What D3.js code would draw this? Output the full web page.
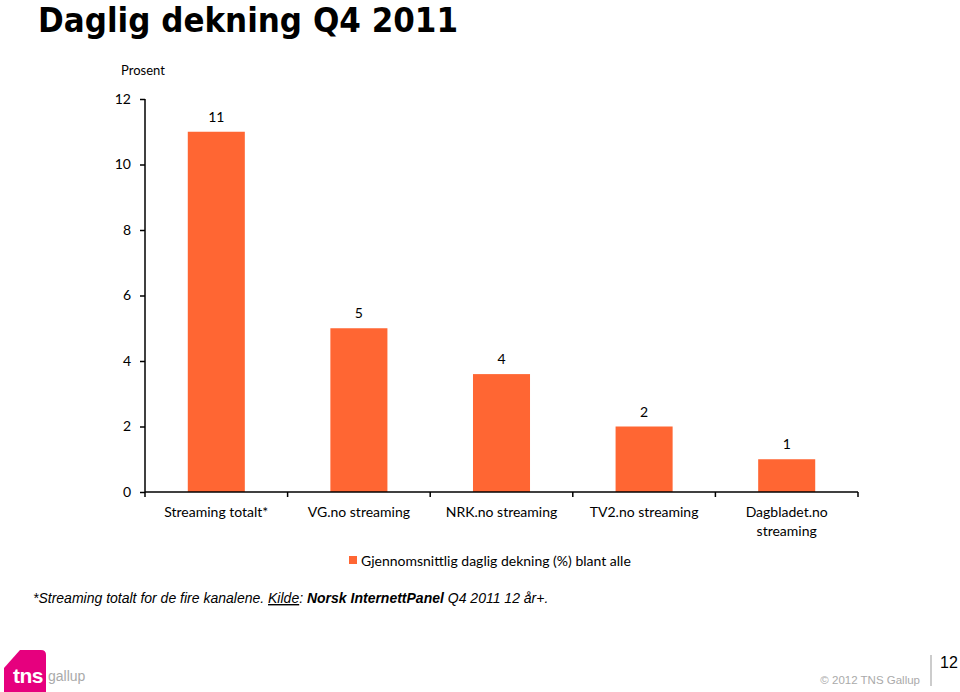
<!DOCTYPE html>
<html>
<head>
<meta charset="utf-8">
<script src="https://cdn.jsdelivr.net/npm/d3@7"></script>
<style>
  html, body { margin: 0; padding: 0; background: #fff; }
  svg { display: block; }
</style>
</head>
<body>
<svg id="chart" width="960" height="692"></svg>
<script>
const categories = [["Streaming totalt*"], ["VG.no streaming"], ["NRK.no streaming"], ["TV2.no streaming"], ["Dagbladet.no", "streaming"]];
const values = [11.0, 5.0, 3.6, 2.0, 1.0];
const yTicks = [0, 2, 4, 6, 8, 10, 12];
const seriesName = "Gjennomsnittlig daglig dekning (%) blant alle";
const titleText = "Daglig dekning Q4 2011";
const yAxisTitle = "Prosent";

const svg = d3.select("#chart");
const barColor = "#FF6633";
const labelFont = "Lato, 'Open Sans', sans-serif";

const x = d3.scaleBand().domain(d3.range(categories.length)).range([145, 858]).paddingInner(0.6).paddingOuter(0.3);
const y = d3.scaleLinear().domain([0, 12]).range([492, 99]);

// Title
svg.append("text").attr("x", 38).attr("y", 31.5)
  .attr("font-family", "'DejaVu Sans', sans-serif").attr("font-weight", 700)
  .attr("font-size", 33).attr("fill", "#000")
  .attr("textLength", 420).attr("lengthAdjust", "spacingAndGlyphs")
  .text(titleText);

// Y axis title
svg.append("text").attr("x", 121).attr("y", 75)
  .attr("font-family", labelFont).attr("font-size", 13).attr("fill", "#000").text(yAxisTitle);

// Y axis
const yAxis = svg.append("g").attr("transform", "translate(145,0)")
  .call(d3.axisLeft(y).tickValues(yTicks).tickSize(5).tickPadding(9).tickFormat(d3.format("d")));
yAxis.select(".domain").attr("stroke", "#000").attr("stroke-width", 1.5).attr("d", `M0,${y(12)}V${y(0)}`);
yAxis.selectAll(".tick line").attr("stroke", "#000").attr("stroke-width", 1.5);
yAxis.selectAll(".tick text").attr("font-family", labelFont).attr("font-size", 14).attr("fill", "#000");

// Bars
svg.append("g").selectAll("rect").data(values).join("rect")
  .attr("x", (d, i) => x(i)).attr("width", x.bandwidth())
  .attr("y", d => y(d)).attr("height", d => y(0) - y(d))
  .attr("fill", barColor);

// Value labels
svg.append("g").selectAll("text").data(values).join("text")
  .attr("x", (d, i) => x(i) + x.bandwidth() / 2).attr("y", d => y(d) - 10)
  .attr("text-anchor", "middle").attr("font-family", labelFont).attr("font-size", 14).attr("fill", "#000")
  .text(d => d3.format(".0f")(d));

// X axis
const x0 = 145, x1 = 858;
const xAxis = svg.append("g").attr("transform", `translate(0,${y(0)})`);
xAxis.append("path").attr("d", `M${x0},0H${x1}`).attr("stroke", "#000").attr("stroke-width", 1.5);
xAxis.selectAll("line.tk").data(d3.range(categories.length + 1)).join("line")
  .attr("class", "tk")
  .attr("x1", i => x0 + i * (x1 - x0) / categories.length).attr("x2", i => x0 + i * (x1 - x0) / categories.length)
  .attr("y1", 0).attr("y2", 5).attr("stroke", "#000").attr("stroke-width", 1.5);
const catLabels = xAxis.selectAll("text.cat").data(categories).join("text")
  .attr("class", "cat")
  .attr("text-anchor", "middle").attr("font-family", labelFont).attr("font-size", 14).attr("fill", "#000");
catLabels.each(function (lines, i) {
  const t = d3.select(this);
  lines.forEach((ln, k) => {
    t.append("tspan").attr("x", x(i) + x.bandwidth() / 2).attr("y", 25 + k * 19).text(ln);
  });
});

// Legend
svg.append("rect").attr("x", 349).attr("y", 556).attr("width", 8).attr("height", 8).attr("fill", barColor);
svg.append("text").attr("x", 361).attr("y", 566)
  .attr("font-family", labelFont).attr("font-size", 14).attr("fill", "#000").text(seriesName);

// Footnote
const fn = svg.append("text").attr("x", 33).attr("y", 603)
  .attr("font-family", "'Liberation Sans', Arial, sans-serif").attr("font-size", 14)
  .attr("font-style", "italic").attr("fill", "#000");
fn.append("tspan").text("*Streaming totalt for de fire kanalene. ");
fn.append("tspan").attr("text-decoration", "underline").text("Kilde");
fn.append("tspan").text(": ");
fn.append("tspan").attr("font-weight", "bold").text("Norsk InternettPanel");
fn.append("tspan").text(" Q4 2011 12 år+.");

// Logo
svg.append("path")
  .attr("d", "M4,668 L20,650 L41,650 Q46,650 46,655 L46,692 L4,692 Z")
  .attr("fill", "#E6007E");
svg.append("text").attr("x", 13).attr("y", 683)
  .attr("font-family", "'Liberation Sans', Arial, sans-serif").attr("font-weight", 700)
  .attr("font-size", 21).attr("fill", "#fff").attr("letter-spacing", -0.5).text("tns");
svg.append("text").attr("x", 48).attr("y", 681)
  .attr("font-family", "'Liberation Sans Narrow', 'Liberation Sans', Arial, sans-serif")
  .attr("font-size", 14).attr("fill", "#aaa").text("gallup");

// Footer right
svg.append("text").attr("x", 920).attr("y", 684).attr("text-anchor", "end")
  .attr("font-family", "'Liberation Sans', Arial, sans-serif").attr("font-size", 11.5).attr("fill", "#aaa")
  .text("© 2012 TNS Gallup");
svg.append("line").attr("x1", 931).attr("x2", 931).attr("y1", 655).attr("y2", 686)
  .attr("stroke", "#999").attr("stroke-width", 1);
svg.append("text").attr("x", 940).attr("y", 668)
  .attr("font-family", "'Liberation Sans', Arial, sans-serif").attr("font-size", 16).attr("fill", "#000")
  .text("12");
</script>
</body>
</html>
